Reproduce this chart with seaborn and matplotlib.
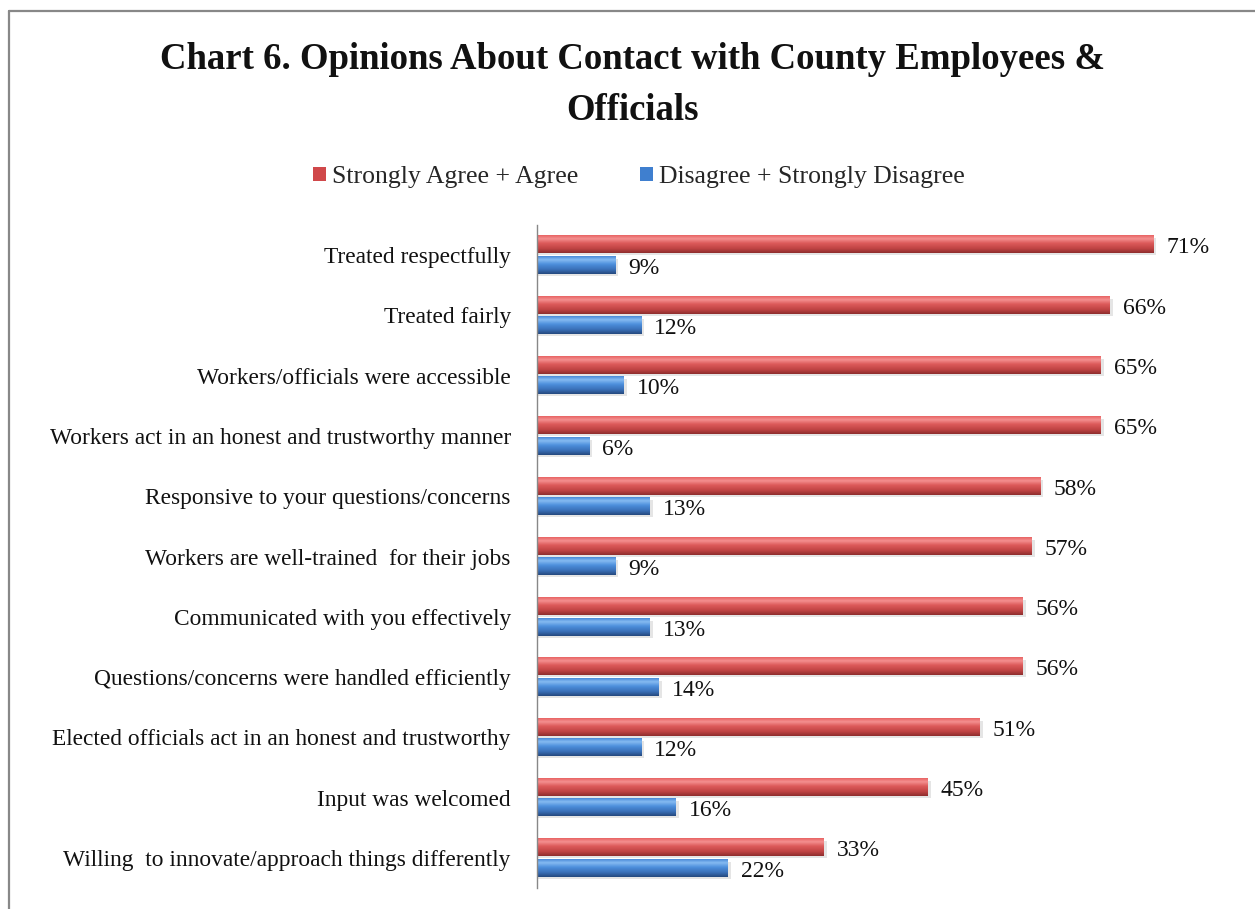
import numpy as np
import pandas as pd
import matplotlib
matplotlib.use("Agg")
import matplotlib.pyplot as plt
from matplotlib.patches import Patch
from matplotlib.lines import Line2D
from matplotlib.colors import LinearSegmentedColormap
import seaborn as sns

categories = [
    "Treated respectfully",
    "Treated fairly",
    "Workers/officials were accessible",
    "Workers act in an honest and trustworthy manner",
    "Responsive to your questions/concerns",
    "Workers are well-trained  for their jobs",
    "Communicated with you effectively",
    "Questions/concerns were handled efficiently",
    "Elected officials act in an honest and trustworthy",
    "Input was welcomed",
    "Willing  to innovate/approach things differently",
]
agree = [71, 66, 65, 65, 58, 57, 56, 56, 51, 45, 33]
disagree = [9, 12, 10, 6, 13, 9, 13, 14, 12, 16, 22]
series = ["Strongly Agree + Agree", "Disagree + Strongly Disagree"]

df = pd.DataFrame({
    "category": categories * 2,
    "value": agree + disagree,
    "series": [series[0]] * len(categories) + [series[1]] * len(categories),
})

sns.set_theme(style="white")
plt.rcParams["font.family"] = ["Liberation Serif", "DejaVu Serif"]

red_main = "#d0484a"
blue_main = "#3f7fcf"
palette = {series[0]: red_main, series[1]: blue_main}

fig = plt.figure(figsize=(12.55, 9.09), dpi=100)
ax = fig.add_axes([0.428, 0.023, 0.56, 0.7295])

sns.barplot(data=df, y="category", x="value", hue="series", palette=palette,
            orient="h", width=0.68, gap=0.17, ax=ax, legend=False,
            edgecolor="none")

# cylinder-style shading for each bar
red_cmap = LinearSegmentedColormap.from_list(
    "red3d", [(0.0, "#e86464"), (0.2, "#f49090"), (0.45, "#dc5a5a"),
              (0.75, "#c04444"), (1.0, "#8e2e2e")])
blue_cmap = LinearSegmentedColormap.from_list(
    "blue3d", [(0.0, "#4a8ad8"), (0.2, "#86bbf2"), (0.45, "#4d8fdc"),
               (0.75, "#3a70b8"), (1.0, "#25497e")])
grad = np.linspace(0, 1, 64).reshape(-1, 1)

n = len(categories)
for i, p in enumerate(ax.patches[:2 * n]):
    x0, y0 = p.get_x(), p.get_y()
    w, h = p.get_width(), p.get_height()
    cmap = red_cmap if i < n else blue_cmap
    # soft drop shadow
    ax.add_patch(plt.Rectangle((x0, y0 + h * 0.12), w + 0.35, h, color="#000000",
                               alpha=0.10, lw=0, zorder=1.5))
    ax.imshow(grad, cmap=cmap, aspect="auto", origin="upper",
              extent=(x0, x0 + w, y0 + h, y0), zorder=2.5, interpolation="bilinear")
    label = f"{int(round(w))}%"
    ax.text(x0 + w + 1.5, y0 + h / 2 + 0.05, label, ha="left", va="center",
            fontsize=17, color="#111111")

ax.set_xlim(0, 81)
ax.set_ylim(n - 0.5, -0.5)
ax.set_xlabel("")
ax.set_ylabel("")
ax.set_xticks([])
ax.tick_params(axis="y", length=0, pad=19, labelsize=16.8, labelcolor="#111111")
for s in ["top", "right", "bottom"]:
    ax.spines[s].set_visible(False)
ax.spines["left"].set_color("#888888")
ax.spines["left"].set_linewidth(1.0)

fig.text(0.504, 0.934, "Chart 6. Opinions About Contact with County Employees &",
         ha="center", va="center", fontsize=26.5, fontweight="bold", color="#111111")
fig.text(0.504, 0.878, "Officials", ha="center", va="center", fontsize=26.5,
         fontweight="bold", color="#111111")

handles = [Patch(facecolor=red_main, edgecolor="none"),
           Patch(facecolor=blue_main, edgecolor="none")]
fig.legend(handles, series, loc="center", bbox_to_anchor=(0.509, 0.805), ncol=2,
           frameon=False, fontsize=18.5, handlelength=0.5, handleheight=0.5,
           handletextpad=0.25, columnspacing=2.4)

# outer chart frame (left and top edges)
fig.add_artist(Line2D([0.0072, 0.0072], [0.0, 0.988], transform=fig.transFigure,
                      color="#888888", lw=1.6))
fig.add_artist(Line2D([0.0072, 1.0], [0.988, 0.988], transform=fig.transFigure,
                      color="#888888", lw=1.6))

fig.savefig("out.png", dpi=100, facecolor="white")
